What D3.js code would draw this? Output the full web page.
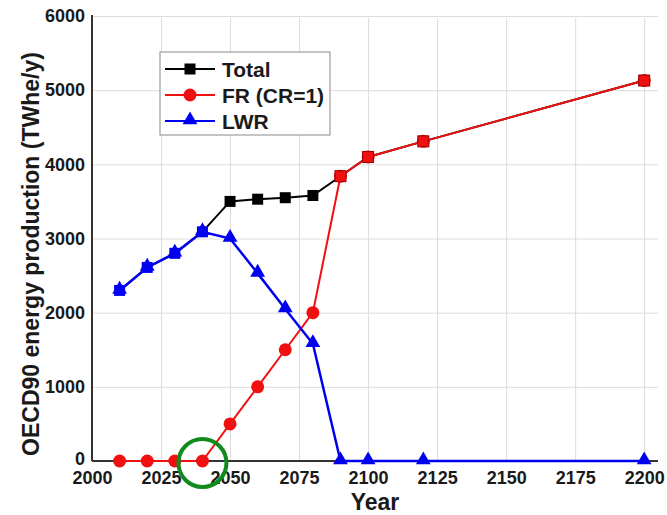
<!DOCTYPE html>
<html>
<head>
<meta charset="utf-8">
<script src="https://cdn.jsdelivr.net/npm/d3@7"></script>
<style>
  html, body { margin: 0; padding: 0; background: #fff; }
  svg { display: block; }
  text { font-family: "Liberation Sans", Arial, sans-serif; font-weight: bold; fill: #1a1a1a; }
</style>
</head>
<body>
<svg id="chart" width="667" height="515"></svg>
<script>
// OECD90 electricity production by reactor type
const years = [2010, 2020, 2030, 2040, 2050, 2060, 2070, 2080, 2090, 2100, 2120, 2200];
const totalValues = [2300, 2610, 2800, 3090, 3500, 3530, 3550, 3580, 3840, 4100, 4310, 5130];
const frValues    = [0, 0, 0, 0, 500, 1000, 1500, 2000, 3840, 4100, 4310, 5130];
const lwrValues   = [2300, 2610, 2800, 3090, 3000, 2530, 2050, 1580, 0, 0, 0, 0];
const seriesNames = ["Total", "FR (CR=1)", "LWR"];
const xTicks = [2000, 2025, 2050, 2075, 2100, 2125, 2150, 2175, 2200];
const yTicks = [0, 1000, 2000, 3000, 4000, 5000, 6000];
const highlightYear = 2040;
const highlightValue = 0;

const colors = { total: "#000000", fr: "#f01010", lwr: "#0000f0" };

const svg = d3.select("#chart");
const x = d3.scaleLinear().domain([2000, 2205]).range([92, 658]);
const y = d3.scaleLinear().domain([0, 6000]).range([461, 16]);
const [x0, x1] = x.range();
const [y0, y1] = y.range();

// grid
svg.append("g")
  .attr("transform", `translate(0,${y0})`)
  .call(d3.axisBottom(x).tickValues(xTicks.slice(1)).tickSize(-(y0 - y1 - 2)).tickFormat(""))
  .call(g => g.select(".domain").remove())
  .call(g => g.selectAll("line").attr("stroke", "#dcdcdc").attr("stroke-width", 1));
svg.append("g")
  .attr("transform", `translate(${x0},0)`)
  .call(d3.axisLeft(y).tickValues(yTicks.slice(1)).tickSize(-(x1 - x0)).tickFormat(""))
  .call(g => g.select(".domain").remove())
  .call(g => g.selectAll("line").attr("stroke", "#dcdcdc").attr("stroke-width", 1));

// axes
const xAxis = svg.append("g")
  .attr("transform", `translate(0,${y0})`)
  .call(d3.axisBottom(x).tickValues(xTicks).tickSize(0).tickPadding(10).tickFormat(d3.format("d")));
xAxis.select(".domain").attr("stroke", "#333").attr("stroke-width", 2).attr("d", `M${x0},0H${x1}`);
xAxis.selectAll("text").attr("font-size", 18).attr("fill", "#1a1a1a");

const yAxis = svg.append("g")
  .attr("transform", `translate(${x0},0)`)
  .call(d3.axisLeft(y).tickValues(yTicks).tickSize(0).tickPadding(7).tickFormat(d3.format("d")));
yAxis.select(".domain").attr("stroke", "#333").attr("stroke-width", 2).attr("d", `M0,${y0}V${y1 - 1}`);
yAxis.selectAll("text").attr("font-size", 18).attr("fill", "#1a1a1a");
// lift the zero label clear of the first year label
yAxis.selectAll(".tick").filter(d => d === 0).select("text").attr("dy", "0.2em");

// axis titles
svg.append("text")
  .attr("x", 375).attr("y", 510)
  .attr("text-anchor", "middle").attr("font-size", 23)
  .text("Year");
svg.append("text")
  .attr("transform", `translate(39,${(y0 + 47) / 2}) rotate(-90)`)
  .attr("text-anchor", "middle").attr("font-size", 23)
  .text("OECD90 energy production (TWhe/y)");

// helpers
const line = vals => d3.line().x((d, i) => x(years[i])).y(d => y(d))(vals);
const tri = d3.symbol().type(d3.symbolTriangle).size(95);
const sq = 11;

// Total
svg.append("path").attr("d", line(totalValues))
  .attr("fill", "none").attr("stroke", colors.total).attr("stroke-width", 2);

// FR
svg.append("path").attr("d", line(frValues))
  .attr("fill", "none").attr("stroke", colors.fr).attr("stroke-width", 2);
svg.append("g").selectAll("circle").data(frValues).join("circle")
  .attr("cx", (d, i) => x(years[i])).attr("cy", d => y(d)).attr("r", 6.5)
  .attr("fill", colors.fr);

// Total markers take the colour of the series that carries all output
svg.append("g").selectAll("rect").data(totalValues).join("rect")
  .attr("x", (d, i) => x(years[i]) - sq / 2).attr("y", d => y(d) - sq / 2)
  .attr("width", sq).attr("height", sq)
  .attr("fill", (d, i) => frValues[i] === 0 ? colors.lwr : lwrValues[i] === 0 ? colors.fr : colors.total)
  .attr("stroke", (d, i) => lwrValues[i] === 0 ? "#900" : "none").attr("stroke-width", 1);

// LWR
svg.append("path").attr("d", line(lwrValues))
  .attr("fill", "none").attr("stroke", colors.lwr).attr("stroke-width", 2.5);
svg.append("g").selectAll("path").data(lwrValues).join("path")
  .attr("d", tri)
  .attr("transform", (d, i) => `translate(${x(years[i])},${y(d) - 1})`)
  .attr("fill", colors.lwr);

// highlight ring
svg.append("circle")
  .attr("cx", x(highlightYear)).attr("cy", y(highlightValue) + 2).attr("r", 24)
  .attr("fill", "none").attr("stroke", "#108a1c").attr("stroke-width", 4);

// legend
const lg = svg.append("g").attr("transform", "translate(160,52)");
lg.append("rect").attr("width", 170).attr("height", 83)
  .attr("fill", "#fff").attr("stroke", "#8a8a8a").attr("stroke-width", 1);
const legendColors = [colors.total, colors.fr, colors.lwr];
seriesNames.forEach((name, i) => {
  const ry = 17 + i * 26;
  lg.append("line").attr("x1", 5).attr("x2", 55).attr("y1", ry).attr("y2", ry)
    .attr("stroke", legendColors[i]).attr("stroke-width", 2);
  if (i === 0) {
    lg.append("rect").attr("x", 30 - sq / 2).attr("y", ry - sq / 2).attr("width", sq).attr("height", sq).attr("fill", legendColors[i]);
  } else if (i === 1) {
    lg.append("circle").attr("cx", 30).attr("cy", ry).attr("r", 6.5).attr("fill", legendColors[i]);
  } else {
    lg.append("path").attr("d", tri).attr("transform", `translate(30,${ry - 1})`).attr("fill", legendColors[i]);
  }
  lg.append("text").attr("x", 62).attr("y", ry + 7.5).attr("font-size", 21).attr("fill", "#111").text(name);
});
</script>
</body>
</html>
